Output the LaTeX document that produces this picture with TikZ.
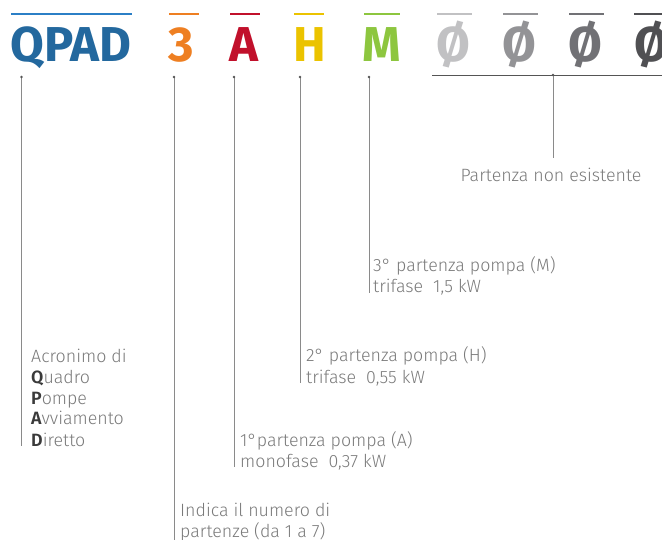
\documentclass[tikz,border=0pt]{standalone}
\usepackage{fontspec}
\setmainfont{Fira Sans Light}[BoldFont=Fira Sans SemiBold]
\newfontfamily\heavyfont{Fira Sans Bold}
\definecolor{qblue}{HTML}{23689E}
\definecolor{qbluebar}{HTML}{2B7FC6}
\definecolor{orange3}{HTML}{EE7F22}
\definecolor{redA}{HTML}{C1102B}
\definecolor{yellowH}{HTML}{EBC300}
\definecolor{greenM}{HTML}{8DC63F}
\definecolor{grayA}{HTML}{C1C1C3}
\definecolor{grayB}{HTML}{939396}
\definecolor{grayC}{HTML}{717175}
\definecolor{grayD}{HTML}{505053}
\definecolor{txtgray}{HTML}{7A7A7A}
\definecolor{boldgray}{HTML}{3A3A3A}
\definecolor{linegray}{HTML}{8A8A8A}
\definecolor{dotgray}{HTML}{555555}

\begin{document}
\begin{tikzpicture}[x=1pt, y=-1pt,
    every node/.style = {inner sep=0pt},
    big/.style = {anchor=base west, font=\heavyfont\fontsize{49}{49}\selectfont},
    lbl/.style = {anchor=base west, align=left, text=txtgray, font=\fontsize{17.8}{21}\selectfont},
    bar/.style = {line width=2.5pt},
    lead/.style = {draw=linegray, line width=0.8pt},
    dot/.style = {circle, fill=dotgray, minimum size=2.6pt}
]
    \useasboundingbox (0,0) rectangle (662,540);

    % code letters
    \node[big, text=qblue] (q) at (10,62) {QPAD};
    \node[big, text=orange3] (n) at (168,62) {3};
    \node[big, text=redA] (a) at (229,62) {A};
    \node[big, text=yellowH] (h) at (293,62) {H};
    \node[big, text=greenM] (m) at (362,62) {M};
    \node[big, text=grayA] (z1) at (436,62) {Ø};
    \node[big, text=grayB] (z2) at (502,62) {Ø};
    \node[big, text=grayC] (z3) at (568,62) {Ø};
    \node[big, text=grayD] (z4) at (634,62) {Ø};

    \foreach \xa/\xb/\c in {11/132/qbluebar, 169/199/orange3, 230/260/redA,
        294/324/yellowH, 364/400/greenM, 437/472/grayA, 503/538/grayB,
        569/604/grayC, 634/662/grayD}
        \draw[bar, \c] (\xa,14) -- (\xb,14);

    % labels (base = last line)
    \node[lbl] (lq) at (31,446) {Acronimo di\\{\bfseries\color{boldgray}Q}uadro\\
        {\bfseries\color{boldgray}P}ompe\\{\bfseries\color{boldgray}A}vviamento\\
        {\bfseries\color{boldgray}D}iretto};
    \node[lbl] (ln) at (180,537) {Indica il numero di\\partenze (da 1 a 7)};
    \node[lbl] (la) at (240,467) {1°partenza pompa (A)\\monofase\ \ 0,37 kW};
    \node[lbl] (lh) at (306,383) {2°\ partenza pompa (H)\\trifase\ \ 0,55 kW};
    \node[lbl] (lm) at (373,293) {3°\ partenza pompa (M)\\trifase\ \ 1,5 kW};
    \node[lbl, anchor=base] (lz) at (551,182) {Partenza non esistente};

    % leaders
    \coordinate (tq) at (21.5,77);
    \coordinate (tn) at (174,77);
    \coordinate (ta) at (234,77);
    \coordinate (th) at (300,77);
    \coordinate (tm) at (369,77);
    \coordinate (zl) at (432,75);
    \coordinate (zr) at (662,75);
    \coordinate (zm) at (553,75);
    \coordinate (zb) at (553,158);

    \foreach \t/\l in {tq/lq, ta/la, th/lh, tm/lm}
        \draw[lead] (\t) -- (\t |- \l.base);
    \draw[lead] (tn) -- (tn |- ln.south);
    \draw[lead, draw=dotgray] (zl) -- (zr);
    \draw[lead] (zm) -- (zb);
    \foreach \t in {tq, tn, ta, th, tm, zm}
        \node[dot] at (\t) {};
\end{tikzpicture}
\end{document}
